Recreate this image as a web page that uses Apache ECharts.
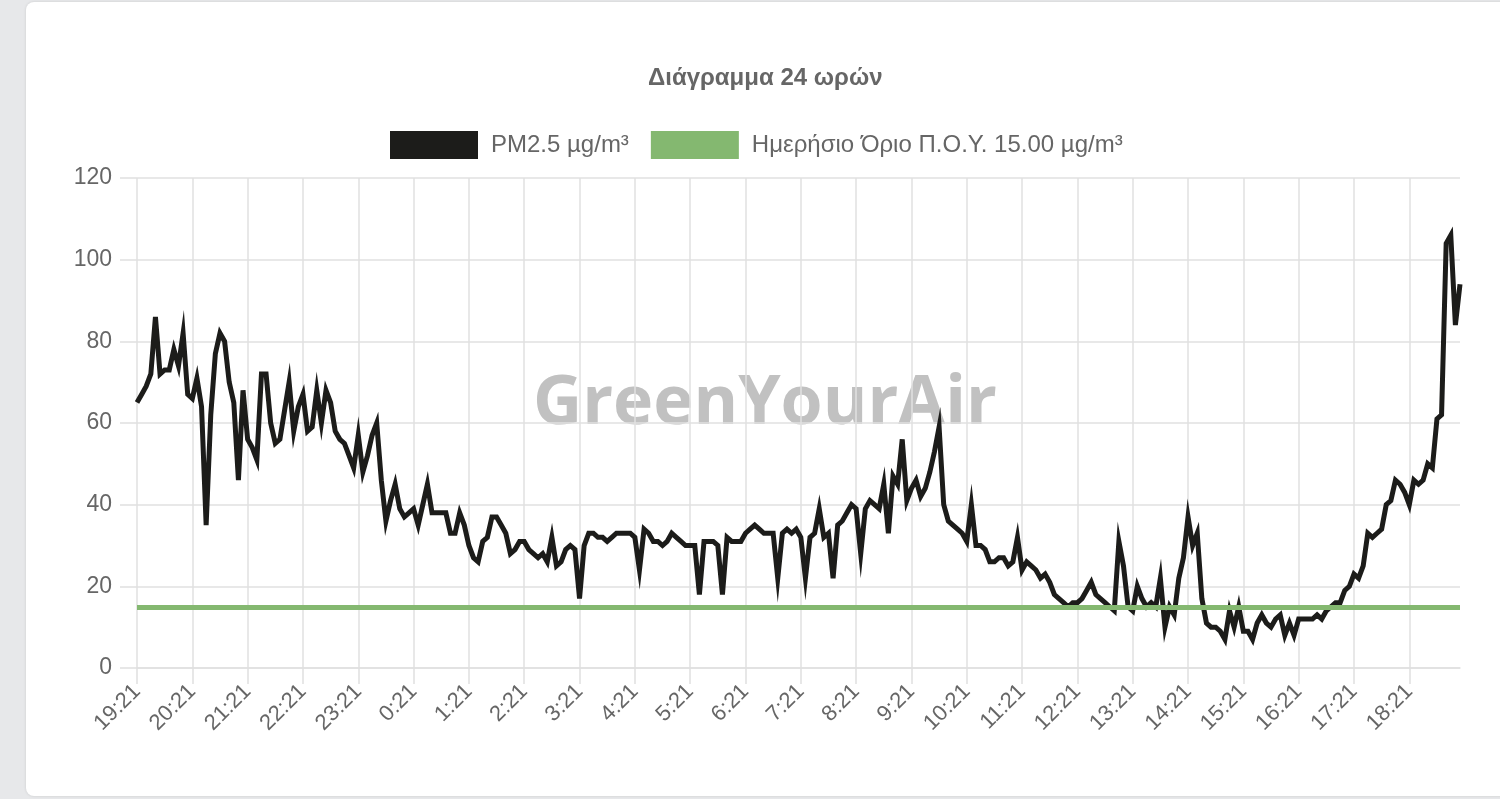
<!DOCTYPE html>
<html>
<head>
<meta charset="utf-8">
<script src="https://cdn.jsdelivr.net/npm/echarts@6/dist/echarts.min.js"></script>
<style>
html,body{margin:0;padding:0;background:#e7e8ea;}
#chart{width:1500px;height:799px;}
</style>
</head>
<body>
<div id="chart"></div>
<script>
// Title / legend texts
const TITLE = 'Διάγραμμα 24 ωρών';
const SERIES_PM = 'PM2.5 µg/m³';
const SERIES_LIMIT = 'Ημερήσιο Όριο Π.Ο.Υ. 15.00 µg/m³';
const LIMIT = 15;

// Time categories (5-minute samples starting 19:21), hour labels every 12 samples
const START_H = 19, START_M = 21, STEP_MIN = 5, N_POINTS = 288;
const times = [];
for (let i = 0; i < N_POINTS; i++) {
  const t = START_H * 60 + START_M + i * STEP_MIN;
  const h = Math.floor(t / 60) % 24, m = t % 60;
  times.push(h + ':' + (m < 10 ? '0' : '') + m);
}

// PM2.5 values, one row per hour
const pm25 = [
  65, 67, 69, 72, 86, 72, 73, 73, 78, 74, 82, 67,
  66, 71, 64, 35, 62, 77, 82, 80, 70, 65, 46, 68,
  56, 54, 51, 72, 72, 60, 55, 56, 63, 70, 58, 64,
  67, 58, 59, 68, 60, 68, 65, 58, 56, 55, 52, 49,
  57, 48, 52, 57, 60, 46, 36, 41, 45, 39, 37, 38,
  39, 35, 40, 45, 38, 38, 38, 38, 33, 33, 38, 35,
  30, 27, 26, 31, 32, 37, 37, 35, 33, 28, 29, 31,
  31, 29, 28, 27, 28, 26, 32, 25, 26, 29, 30, 29,
  17, 30, 33, 33, 32, 32, 31, 32, 33, 33, 33, 33,
  32, 24, 34, 33, 31, 31, 30, 31, 33, 32, 31, 30,
  30, 30, 18, 31, 31, 31, 30, 18, 32, 31, 31, 31,
  33, 34, 35, 34, 33, 33, 33, 22, 33, 34, 33, 34,
  32, 22, 32, 33, 39, 32, 33, 22, 35, 36, 38, 40,
  39, 28, 39, 41, 40, 39, 45, 33, 47, 45, 56, 41,
  44, 46, 42, 44, 48, 53, 59, 40, 36, 35, 34, 33,
  31, 40, 30, 30, 29, 26, 26, 27, 27, 25, 26, 32,
  24, 26, 25, 24, 22, 23, 21, 18, 17, 16, 15, 16,
  16, 17, 19, 21, 18, 17, 16, 15, 14, 31, 25, 15,
  14, 20, 17, 15, 16, 15, 22, 10, 15, 13, 22, 27,
  37, 30, 33, 17, 11, 10, 10, 9, 7, 14, 10, 15,
  9, 9, 7, 11, 13, 11, 10, 12, 13, 8, 11, 8,
  12, 12, 12, 12, 13, 12, 14, 15, 16, 16, 19, 20,
  23, 22, 25, 33, 32, 33, 34, 40, 41, 46, 45, 43,
  40, 46, 45, 46, 50, 49, 61, 62, 104, 106, 84, 94
];

const Y_MIN = 0, Y_MAX = 120, Y_STEP = 20;

const GRID_COLOR = '#e0e0e0';
const TEXT_COLOR = '#666666';
const PM_COLOR = '#1c1c1a';
const LIMIT_COLOR = '#84b870';
const FONT = '"Liberation Sans", Arial, Helvetica, sans-serif';

const chart = echarts.init(document.getElementById('chart'), null, {renderer: 'canvas'});
const hourTick = (idx) => idx % 12 === 0;

chart.setOption({
  animation: false,
  backgroundColor: '#e7e8ea',
  graphic: [
    {type: 'rect', z: -10, shape: {x: 26, y: 2, width: 1500, height: 794, r: 8},
     style: {fill: '#ffffff', shadowBlur: 3, shadowColor: 'rgba(0,0,0,0.12)'}},
    {type: 'text', z: 0, left: 533, top: 371, silent: true,
     style: {text: 'GreenYourAir', fill: '#c1c1c1', font: 'bold 68px "Open Sans", sans-serif'}}
  ],
  title: {
    text: TITLE,
    left: 648, top: 66, padding: 0,
    textStyle: {fontFamily: FONT, fontSize: 24, fontWeight: 'bold', color: TEXT_COLOR}
  },
  legend: {
    left: 390, top: 131, padding: 0,
    itemWidth: 88, itemHeight: 28, itemGap: 22,
    icon: 'rect',
    textStyle: {fontFamily: FONT, fontSize: 24, color: TEXT_COLOR, padding: [0, 0, 0, 8]},
    data: [{name: SERIES_PM, itemStyle: {color: PM_COLOR}}, {name: SERIES_LIMIT, itemStyle: {color: LIMIT_COLOR}}]
  },
  grid: {left: 137, right: 40, top: 178, bottom: 131, containLabel: false},
  xAxis: {
    type: 'category',
    boundaryGap: false,
    data: times,
    axisLine: {show: true, lineStyle: {color: GRID_COLOR, width: 1.5}},
    axisTick: {show: true, length: 16, interval: hourTick, lineStyle: {color: GRID_COLOR, width: 1.5}},
    splitLine: {show: true, interval: hourTick, lineStyle: {color: GRID_COLOR, width: 1.5}},
    axisLabel: {interval: hourTick, rotate: 45, margin: 20, color: TEXT_COLOR, fontFamily: FONT, fontSize: 22}
  },
  yAxis: {
    type: 'value',
    min: Y_MIN, max: Y_MAX, interval: Y_STEP,
    axisLine: {show: false},
    axisTick: {show: true, length: 17, lineStyle: {color: GRID_COLOR, width: 1.5}},
    splitLine: {show: true, lineStyle: {color: GRID_COLOR, width: 1.5}},
    axisLabel: {margin: 25, color: TEXT_COLOR, fontFamily: FONT, fontSize: 23}
  },
  series: [
    {
      name: SERIES_PM, type: 'line', data: pm25, showSymbol: false, z: 3,
      itemStyle: {color: PM_COLOR},
      lineStyle: {color: PM_COLOR, width: 5, join: 'miter'}
    },
    {
      name: SERIES_LIMIT, type: 'line', data: [], showSymbol: false, z: 2,
      itemStyle: {color: LIMIT_COLOR},
      markLine: {
        silent: true, symbol: 'none', label: {show: false},
        lineStyle: {color: LIMIT_COLOR, width: 5, type: 'solid'},
        data: [{yAxis: LIMIT}]
      }
    }
  ]
});
</script>
</body>
</html>
